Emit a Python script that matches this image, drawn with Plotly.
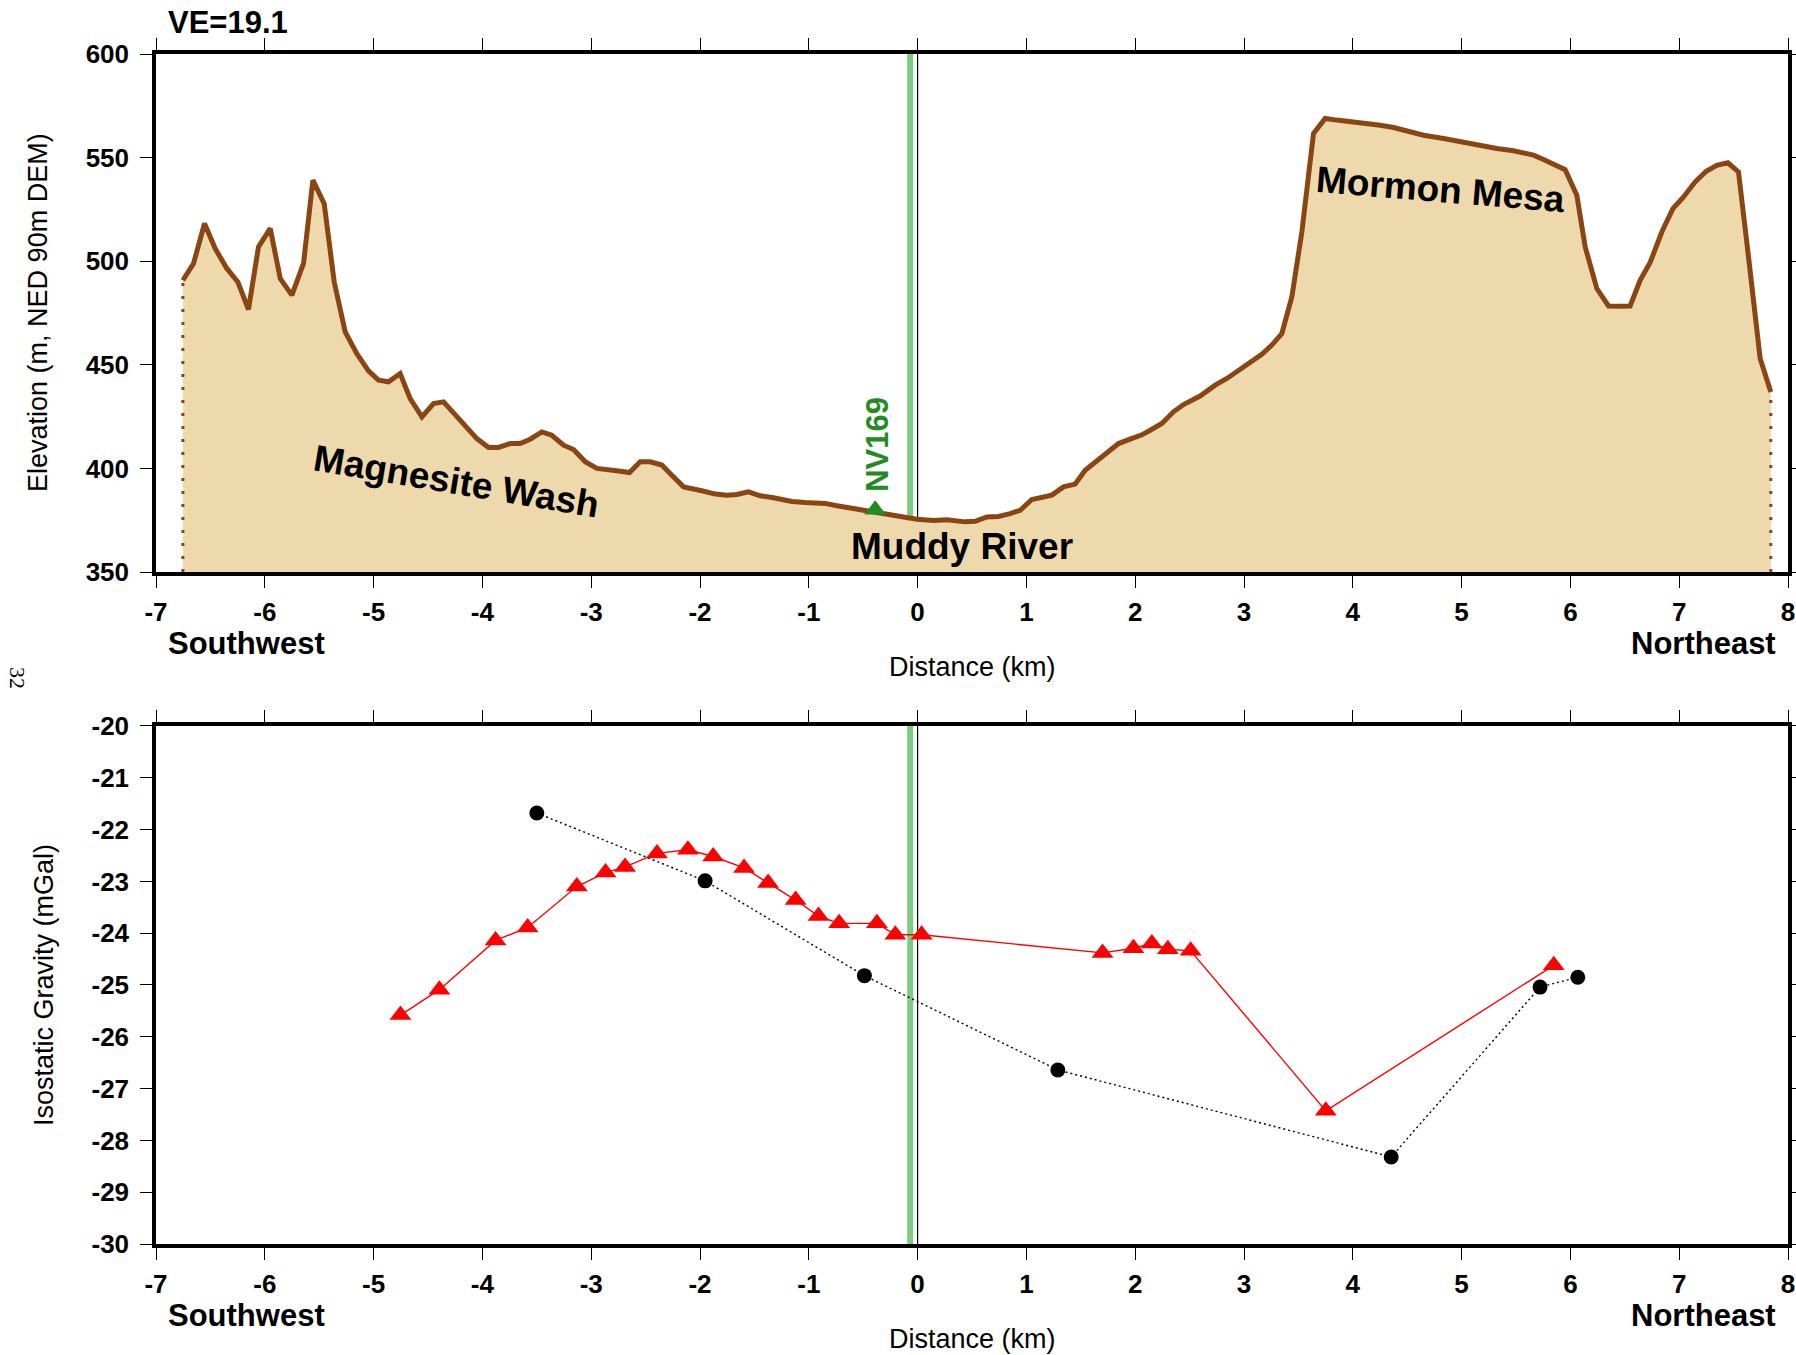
import plotly.graph_objects as go

# ---------------- data ----------------
dist_km = [-6.753, -6.655, -6.554, -6.456, -6.349, -6.248, -6.150, -6.058, -5.950, -5.858,
           -5.751, -5.644, -5.558, -5.454, -5.362, -5.261, -5.154, -5.047, -4.955, -4.863,
           -4.756, -4.664, -4.556, -4.449, -4.357, -4.250, -4.143, -4.051, -3.944, -3.852,
           -3.744, -3.653, -3.561, -3.453, -3.362, -3.254, -3.162, -3.055, -2.948, -2.856,
           -2.749, -2.648, -2.550, -2.458, -2.351, -2.259, -2.151, -1.983, -1.860, -1.753,
           -1.661, -1.554, -1.447, -1.324, -1.156, -1.033, -0.849, -0.742, -0.620, -0.466,
           -0.313, -0.160, -0.007, 0.147, 0.269, 0.437, 0.529, 0.637, 0.744, 0.851,
           0.943, 1.050, 1.142, 1.234, 1.341, 1.448, 1.540, 1.648, 1.755, 1.847,
           1.954, 2.061, 2.138, 2.245, 2.352, 2.444, 2.597, 2.735, 2.843, 2.950,
           3.057, 3.164, 3.256, 3.348, 3.440, 3.532, 3.639, 3.746, 3.853, 4.037,
           4.252, 4.375, 4.497, 4.650, 4.834, 4.987, 5.156, 5.324, 5.477, 5.569,
           5.661, 5.753, 5.860, 5.952, 6.059, 6.136, 6.243, 6.350, 6.457, 6.549,
           6.641, 6.733, 6.841, 6.942, 7.040, 7.147, 7.248, 7.346, 7.447, 7.545,
           7.637, 7.744, 7.842]
elev_m = [490.8, 498.9, 518.2, 506.1, 496.5, 490.0, 476.7, 506.9, 515.8, 491.6,
          483.6, 498.9, 539.1, 527.8, 490.0, 465.9, 455.4, 447.1, 442.6, 441.8,
          445.8, 433.7, 424.9, 431.3, 432.1, 425.7, 419.3, 414.4, 410.1, 410.1,
          412.0, 412.0, 414.1, 417.6, 416.0, 411.2, 409.1, 403.2, 400.0, 399.6,
          398.7, 398.0, 403.2, 403.2, 401.6, 396.7, 391.1, 389.2, 387.6, 387.1,
          387.4, 388.7, 386.8, 385.8, 384.0, 383.5, 383.1, 382.0, 381.0, 379.5,
          378.2, 377.1, 375.5, 374.9, 375.2, 374.2, 374.5, 376.6, 376.8, 378.2,
          379.8, 385.0, 386.3, 387.1, 391.1, 392.4, 399.1, 403.6, 408.8, 412.0,
          414.1, 416.2, 418.4, 421.7, 427.3, 430.8, 434.9, 440.2, 443.4, 447.4,
          451.4, 455.1, 459.5, 465.1, 482.8, 514.2, 561.6, 568.9, 568.1, 567.2,
          565.6, 564.5, 562.9, 560.8, 559.2, 557.6, 555.7, 554.4, 553.3, 552.5,
          551.2, 549.1, 546.8, 544.2, 531.9, 506.9, 486.8, 478.4, 478.3, 478.4,
          490.8, 499.4, 514.2, 525.4, 531.0, 538.3, 543.4, 546.3, 547.5, 543.1,
          502.1, 453.0, 436.9]

# gravity station NV169 on profile
nv169_km = [-0.39]
nv169_elev = [380.0]
nv169_line_km = -0.068   # green reference line
origin_km = 0.0          # black reference line

# isostatic gravity: red triangles
tri_km = [-4.753, -4.395, -3.879, -3.584, -3.132, -2.868, -2.689, -2.395, -2.111, -1.879,
          -1.595, -1.374, -1.121, -0.911, -0.721, -0.374, -0.205, 0.037, 1.70, 1.984,
          2.153, 2.30, 2.51, 3.752, 5.847]
tri_mgal = [-25.58, -25.09, -24.14, -23.89, -23.10, -22.83, -22.72, -22.46, -22.39, -22.52,
            -22.74, -23.03, -23.36, -23.67, -23.81, -23.81, -24.03, -24.03, -24.38, -24.29,
            -24.20, -24.31, -24.34, -27.43, -24.62]

# isostatic gravity: black dots
dot_km = [-3.50, -1.953, -0.489, 1.289, 4.353, 5.721, 6.068]
dot_mgal = [-21.68, -22.99, -24.82, -26.64, -28.32, -25.04, -24.85]

x_ticks = list(range(-7, 9))
x_ticktext = [str(v) for v in x_ticks]
elev_ticks = [350, 400, 450, 500, 550, 600]
elev_ticktext = [str(v) for v in elev_ticks]
grav_ticks = list(range(-30, -19))
grav_ticktext = [str(v) for v in grav_ticks]

# ---------------- style ----------------
FONT = "Liberation Sans, Arial, Helvetica, sans-serif"
BROWN = "#8B4513"
FILL = "#eed9ad"
GREEN = "#228B22"
LGREEN = "#7dcb7d"

fig = go.Figure()

# profile fill + outline
fig.add_trace(go.Scatter(x=dist_km, y=elev_m, mode="lines", fill="tozeroy",
                         fillcolor=FILL, line=dict(color=BROWN, width=5),
                         xaxis="x", yaxis="y", showlegend=False, hoverinfo="skip"))
# dotted end lines
for xe, ye in [(dist_km[0], elev_m[0]), (dist_km[-1], elev_m[-1])]:
    fig.add_trace(go.Scatter(x=[xe, xe], y=[elev_ticks[0], ye], mode="lines",
                             line=dict(color=BROWN, width=3, dash="3px,10px"),
                             xaxis="x", yaxis="y", showlegend=False, hoverinfo="skip"))
# NV169 marker
fig.add_trace(go.Scatter(x=nv169_km, y=nv169_elev, mode="markers",
                         marker=dict(symbol="triangle-up", size=19, color=GREEN),
                         xaxis="x", yaxis="y", showlegend=False))

# gravity traces
fig.add_trace(go.Scatter(x=dot_km, y=dot_mgal, mode="lines+markers",
                         line=dict(color="black", width=1.4, dash="2px,3px"),
                         marker=dict(symbol="circle", size=15, color="black"),
                         xaxis="x2", yaxis="y2", showlegend=False))
fig.add_trace(go.Scatter(x=tri_km, y=tri_mgal, mode="lines+markers",
                         line=dict(color="red", width=1.4),
                         marker=dict(symbol="triangle-up", size=19, color="red"),
                         xaxis="x2", yaxis="y2", showlegend=False))

# reference vertical lines
shapes = []
for xr, yr, yrng in [("x", "y", (elev_ticks[0], elev_ticks[-1])),
                     ("x2", "y2", (grav_ticks[0], grav_ticks[-1]))]:
    shapes.append(dict(type="line", xref=xr, yref=yr, x0=nv169_line_km, x1=nv169_line_km,
                       y0=yrng[0], y1=yrng[1], line=dict(color=LGREEN, width=6), layer="below"))
    shapes.append(dict(type="line", xref=xr, yref=yr, x0=origin_km, x1=origin_km,
                       y0=yrng[0], y1=yrng[1], line=dict(color="black", width=1.2), layer="below"))

tickfont = dict(family=FONT, size=26, color="black", weight="bold")
axis_common = dict(showline=True, linewidth=3.5, linecolor="black", mirror="ticks",
                   ticks="outside", ticklen=12, tickwidth=1.3, tickcolor="black",
                   showgrid=False, zeroline=False, tickfont=tickfont, automargin=False)

top_dom = [0.5647, 1.0]
bot_dom = [0.0, 0.4353]

layout = dict(
    width=1796, height=1355, autosize=False,
    margin=dict(l=156, r=8, t=54, b=111, autoexpand=False),
    plot_bgcolor="white", paper_bgcolor="white",
    shapes=shapes,
    xaxis=dict(domain=[0, 1], anchor="y", range=[-7, 8], tickvals=x_ticks,
               ticktext=x_ticktext, ticklabelstandoff=2, **axis_common),
    yaxis=dict(domain=top_dom, anchor="x", range=[350, 600], tickvals=elev_ticks,
               ticktext=elev_ticktext, ticklabelstandoff=6, **axis_common),
    xaxis2=dict(domain=[0, 1], anchor="y2", range=[-7, 8], tickvals=x_ticks,
                ticktext=x_ticktext, ticklabelstandoff=2, **axis_common),
    yaxis2=dict(domain=bot_dom, anchor="x2", range=[-30, -20], tickvals=grav_ticks,
                ticktext=grav_ticktext, ticklabelstandoff=6, **axis_common),
)
fig.update_layout(**layout)

bold = lambda s: dict(family=FONT, size=s, color="black", weight="bold")
reg = lambda s: dict(family=FONT, size=s, color="black")

ann = [
    dict(text="VE=19.1", xref="paper", yref="paper", x=0.0061, y=1.0261,
         xanchor="left", yanchor="middle", font=bold(31)),
    dict(text="Southwest", xref="paper", yref="paper", x=0.0061, y=0.5050,
         xanchor="left", yanchor="middle", font=bold(31)),
    dict(text="Northeast", xref="paper", yref="paper", x=0.9939, y=0.5050,
         xanchor="right", yanchor="middle", font=bold(31)),
    dict(text="Southwest", xref="paper", yref="paper", x=0.0061, y=-0.0597,
         xanchor="left", yanchor="middle", font=bold(31)),
    dict(text="Northeast", xref="paper", yref="paper", x=0.9939, y=-0.0597,
         xanchor="right", yanchor="middle", font=bold(31)),
    dict(text="Distance (km)", xref="paper", yref="paper", x=0.5, y=0.4849,
         xanchor="center", yanchor="middle", font=reg(27)),
    dict(text="Distance (km)", xref="paper", yref="paper", x=0.5, y=-0.0798,
         xanchor="center", yanchor="middle", font=reg(27)),
    dict(text="Elevation (m, NED 90m DEM)", xref="paper", yref="paper", x=-0.0723, y=0.7824,
         xanchor="center", yanchor="middle", textangle=-90, font=reg(27)),
    dict(text="Isostatic Gravity (mGal)", xref="paper", yref="paper", x=-0.0686, y=0.2176,
         xanchor="center", yanchor="middle", textangle=-90, font=reg(27)),
    dict(text="32", xref="paper", yref="paper", x=-0.0846, y=0.4756,
         xanchor="center", yanchor="middle", textangle=90,
         font=dict(family="Liberation Serif, Times New Roman, serif", size=22, color="black")),
    dict(text="Magnesite Wash", xref="x", yref="y", x=-4.24, y=393.5,
         xanchor="center", yanchor="middle", textangle=9.5, font=bold(37)),
    dict(text="Muddy River", xref="x", yref="y", x=0.407, y=362.5,
         xanchor="center", yanchor="middle", font=bold(37)),
    dict(text="Mormon Mesa", xref="x", yref="y", x=4.803, y=534.8,
         xanchor="center", yanchor="middle", textangle=4.7, font=bold(37)),
    dict(text="NV169", xref="x", yref="y", x=-0.376, y=411.7,
         xanchor="center", yanchor="middle", textangle=-90,
         font=dict(family=FONT, size=31, color=GREEN, weight="bold")),
]
fig.update_layout(annotations=[dict(showarrow=False, **a) for a in ann])

fig.write_html("out.html", config={"responsive": False})
